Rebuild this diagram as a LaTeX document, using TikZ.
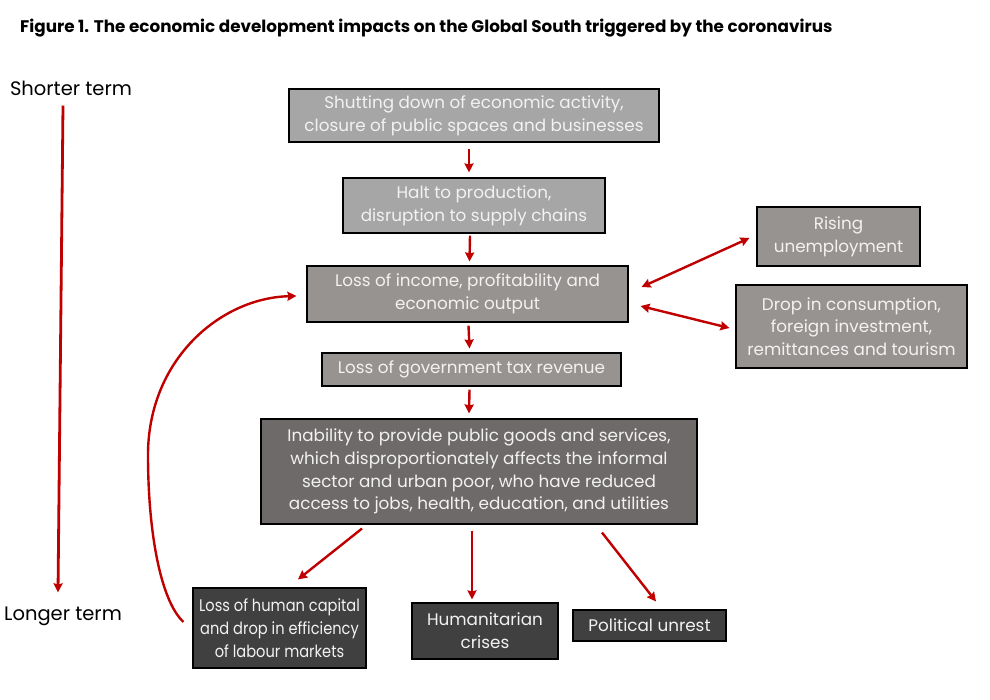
\documentclass[tikz,border=0pt]{standalone}
\usepackage{fontspec}
\setmainfont{Poppins}
\usetikzlibrary{arrows.meta,calc}
\definecolor{arrred}{HTML}{C00000}
\definecolor{gA}{HTML}{A6A6A6}
\definecolor{gB}{HTML}{979391}
\definecolor{gC}{HTML}{6F6A6A}
\definecolor{gD}{HTML}{404040}
\definecolor{boxtext}{HTML}{F2F2F2}
\begin{document}
\begin{tikzpicture}[x=1pt,y=-1pt,
  box/.style={draw=black, line width=1.1pt, text=boxtext, align=center, inner sep=0pt,
    font=\fontsize{16.8}{22.8}\selectfont},
  arr/.style={draw=arrred, line width=2.4pt, -{Stealth[length=9pt,width=9pt,inset=1pt]}},
  darr/.style={draw=arrred, line width=2.4pt, {Stealth[length=9pt,width=9pt,inset=1pt]}-{Stealth[length=9pt,width=9pt,inset=1pt]}},
  side/.style={font=\fontsize{19.5}{23}\selectfont, text=black, inner sep=0pt}]
\useasboundingbox (0,0) rectangle (990,699);
\fill[white] (0,0) rectangle (990,699);

\node[anchor=west, inner sep=0pt, font=\bfseries\fontsize{16.8}{20}\selectfont] (title) at (20,28)
  {Figure 1. The economic development impacts on the Global South triggered by the coronavirus};

\node[side] (short) at (71,88) {Shorter term};
\node[side] (long) at (63,616) {Longer term};

\node[box, fill=gA, minimum width=370pt, minimum height=53pt] (n1) at (474,115.5)
  {Shutting down of economic activity,\\closure of public spaces and businesses};
\node[box, fill=gA, minimum width=262pt, minimum height=55pt] (n2) at (474,205.5)
  {Halt to production,\\disruption to supply chains};
\node[box, fill=gB, minimum width=321pt, minimum height=56pt] (n3) at (467.5,294)
  {Loss of income, profitability and\\economic output};
\node[box, fill=gB, minimum width=299pt, minimum height=33pt] (n4) at (471.5,369.5)
  {Loss of government tax revenue};
\node[box, fill=gC, minimum width=436pt, minimum height=105pt] (n5) at (479,471.5)
  {Inability to provide public goods and services,\\which disproportionately affects the informal\\sector and urban poor, who have reduced\\access to jobs, health, education, and utilities};
\node[box, fill=gB, minimum width=163pt, minimum height=59pt] (n6) at (838.5,236.5)
  {Rising\\unemployment};
\node[box, fill=gB, minimum width=231pt, minimum height=83pt] (n7) at (851.5,326.5)
  {Drop in consumption,\\foreign investment,\\remittances and tourism};
\node[box, fill=gD, minimum width=173pt, minimum height=80pt,
      font=\fontsize{16.8}{22.8}\selectfont\addfontfeature{FakeStretch=0.87}] (n8) at (279.5,628)
  {Loss of human capital\\and drop in efficiency\\of labour markets};
\node[box, fill=gD, minimum width=146pt, minimum height=56pt] (n9) at (485,631)
  {Humanitarian\\crises};
\node[box, fill=gD, minimum width=153pt, minimum height=31pt] (n10) at (649.5,625.5)
  {Political unrest};

% timeline
\draw[arr, line width=2.8pt] ($(short.south)+(-8,10)$) -- ($(long.north)+(-5,-14)$);

% vertical chain
\draw[arr] ($(n1.south)+(-5,6)$) -- ($(n2.north)+(-5,-5)$);
\draw[arr] ($(n2.south)+(-4,2)$) -- ($(n3.north)+(2,-4)$);
\draw[arr] ($(n3.south)+(1,3)$) -- ($(n4.north)+(-2,-4)$);
\draw[arr] ($(n4.south)+(-2,3)$) -- ($(n5.north)+(-10,-5)$);

% side double arrows
\draw[darr] ($(n3.east)+(13,-7)$) -- ($(n6.west)+(-7,1.5)$);
\draw[darr] ($(n3.east)+(12,12)$) -- ($(n7.west)+(-6,1.5)$);

% bottom arrows
\draw[arr] ($(n5.south)+(-117,4)$) -- ($(n8.north)+(18.5,-8)$);
\draw[arr] ($(n5.south)+(-7,6)$) -- ($(n9.north)+(-13,-3)$);
\draw[arr] ($(n5.south)+(123,8)$) -- ($(n10.north)+(6.5,-8)$);

% feedback curve
\draw[arr] ($(n8.west)+(-9,-6)$) .. controls (160,600) and (148,530) .. (148,455)
  .. controls (148,360) and (220,298) .. ($(n3.west)+(-10,2)$);
\end{tikzpicture}
\end{document}
